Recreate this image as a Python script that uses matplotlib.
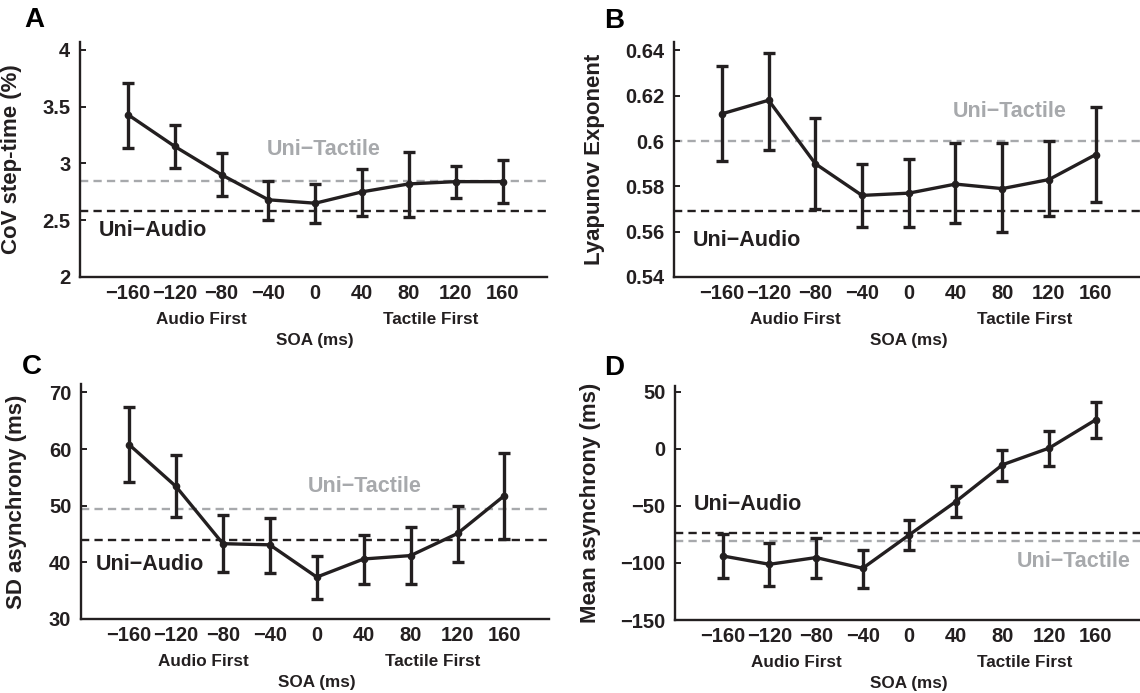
import matplotlib
matplotlib.use("Agg")
import matplotlib.pyplot as plt
import matplotlib.transforms as mtransforms

plt.rcParams["font.family"] = ["Liberation Sans", "DejaVu Sans"]
plt.rcParams["font.weight"] = "bold"
plt.rcParams["axes.labelweight"] = "bold"

SOA = [-160, -120, -80, -40, 0, 40, 80, 120, 160]
SOA_LABELS = ["\u2212160", "\u2212120", "\u221280", "\u221240", "0", "40", "80", "120", "160"]

cov_mean = [3.43, 3.15, 2.90, 2.68, 2.65, 2.75, 2.82, 2.84, 2.84]
cov_low = [3.14, 2.96, 2.71, 2.50, 2.48, 2.54, 2.53, 2.70, 2.65]
cov_high = [3.71, 3.34, 3.09, 2.85, 2.82, 2.95, 3.10, 2.98, 3.03]
cov_uni_audio = 2.58
cov_uni_tactile = 2.85

lyap_mean = [0.612, 0.618, 0.590, 0.576, 0.577, 0.581, 0.579, 0.583, 0.594]
lyap_low = [0.591, 0.596, 0.570, 0.562, 0.562, 0.564, 0.560, 0.567, 0.573]
lyap_high = [0.633, 0.639, 0.610, 0.590, 0.592, 0.599, 0.599, 0.600, 0.615]
lyap_uni_audio = 0.569
lyap_uni_tactile = 0.600

sd_mean = [60.8, 53.4, 43.3, 43.1, 37.4, 40.6, 41.2, 45.1, 51.8]
sd_low = [54.2, 48.0, 38.3, 38.1, 33.5, 36.2, 36.2, 40.0, 44.2]
sd_high = [67.4, 58.9, 48.3, 47.8, 41.2, 44.9, 46.2, 50.0, 59.3]
sd_uni_audio = 44.0
sd_uni_tactile = 49.5

mean_mean = [-93.9, -101.2, -95.3, -104.7, -75.4, -46.2, -14.0, 0.6, 25.4]
mean_low = [-112.9, -119.9, -112.9, -121.6, -88.6, -60.2, -28.1, -14.9, 9.4]
mean_high = [-74.9, -82.7, -78.4, -88.6, -62.3, -32.5, -0.9, 15.8, 41.2]
mean_uni_audio = -73.4
mean_uni_tactile = -80.4

DARK = "#231f20"
GREY = "#a7a9ac"
W, H = 1140, 693


def px_rect(left, top, right, bottom):
    return [left / W, 1 - bottom / H, (right - left) / W, (bottom - top) / H]


def draw_panel(fig, rect, letter, letter_xy, mean, low, high, uni_audio, uni_tactile,
               ylim, yticks, yticklabels, ylabel, ylabel_x, xlim,
               audio_xy, tactile_xy):
    ax = fig.add_axes(rect)
    yerr = [[m - lo for m, lo in zip(mean, low)], [hi - m for m, hi in zip(mean, high)]]
    ax.axhline(uni_tactile, color=GREY, lw=1.7, dashes=(3.5, 2.2), zorder=1)
    ax.axhline(uni_audio, color=DARK, lw=1.7, dashes=(3.5, 2.2), zorder=1)
    ax.errorbar(SOA, mean, yerr=yerr, color=DARK, lw=2.4, elinewidth=2.4,
                capsize=4, capthick=2.4, marker="o", markersize=4.5, zorder=3)
    ax.set_xlim(*xlim)
    ax.set_ylim(*ylim)
    ax.set_xticks(SOA)
    ax.set_xticklabels(SOA_LABELS)
    ax.set_yticks(yticks)
    ax.set_yticklabels(yticklabels)
    for side in ("top", "right"):
        ax.spines[side].set_visible(False)
    for side in ("left", "bottom"):
        ax.spines[side].set_linewidth(1.7)
        ax.spines[side].set_color(DARK)
    ax.tick_params(axis="x", length=0, pad=5, labelsize=14.5, colors=DARK)
    ax.tick_params(axis="y", direction="in", length=4, width=1.4, pad=7,
                   labelsize=14.5, colors=DARK)
    ax.set_ylabel(ylabel, fontsize=16, color=DARK)
    ax.yaxis.set_label_coords(ylabel_x, 0.5)

    trans = mtransforms.blended_transform_factory(ax.transData, ax.transAxes)
    ax.text(-97, -0.18, "Audio First", transform=trans, ha="center", va="center",
            fontsize=12.3, color=DARK)
    ax.text(99, -0.18, "Tactile First", transform=trans, ha="center", va="center",
            fontsize=12.3, color=DARK)
    ax.text(0, -0.27, "SOA (ms)", transform=trans, ha="center", va="center",
            fontsize=12.3, color=DARK)

    ax.text(audio_xy[0], audio_xy[1], "Uni\u2212Audio", ha="left", va="center",
            fontsize=15.5, color=DARK)
    ax.text(tactile_xy[0], tactile_xy[1], "Uni\u2212Tactile", ha="center", va="center",
            fontsize=15.5, color=GREY)

    fig.text(letter_xy[0] / W, 1 - letter_xy[1] / H, letter, ha="center", va="center",
             fontsize=20, color="black")
    return ax


fig = plt.figure(figsize=(11.4, 6.93), dpi=100)

draw_panel(fig, px_rect(80, 42, 547, 277), "A", (34, 20),
           cov_mean, cov_low, cov_high, cov_uni_audio, cov_uni_tactile,
           (2, 4.07), [2, 2.5, 3, 3.5, 4], ["2", "2.5", "3", "3.5", "4"],
           "CoV step-time (%)", -0.124, (-201, 198), (-185, 2.41), (7, 3.12))

draw_panel(fig, px_rect(674, 42, 1140, 277), "B", (614, 21),
           lyap_mean, lyap_low, lyap_high, lyap_uni_audio, lyap_uni_tactile,
           (0.54, 0.6437), [0.54, 0.56, 0.58, 0.6, 0.62, 0.64],
           ["0.54", "0.56", "0.58", "0.6", "0.62", "0.64"],
           "Lyapunov Exponent", -0.149, (-201, 198), (-185, 0.556), (86, 0.613))

draw_panel(fig, px_rect(81, 384, 549, 619), "C", (32, 367),
           sd_mean, sd_low, sd_high, sd_uni_audio, sd_uni_tactile,
           (30, 71.5), [30, 40, 50, 60, 70], ["30", "40", "50", "60", "70"],
           "SD asynchrony (ms)", -0.115, (-201, 198), (-188, 39.6), (41, 53.4))

draw_panel(fig, px_rect(675, 386, 1140, 620), "D", (614, 368),
           mean_mean, mean_low, mean_high, mean_uni_audio, mean_uni_tactile,
           (-150, 55), [-150, -100, -50, 0, 50],
           ["\u2212150", "\u2212100", "\u221250", "0", "50"],
           "Mean asynchrony (ms)", -0.159, (-201, 198), (-185, -49), (141, -98.8))

fig.savefig("out.png", dpi=100)
